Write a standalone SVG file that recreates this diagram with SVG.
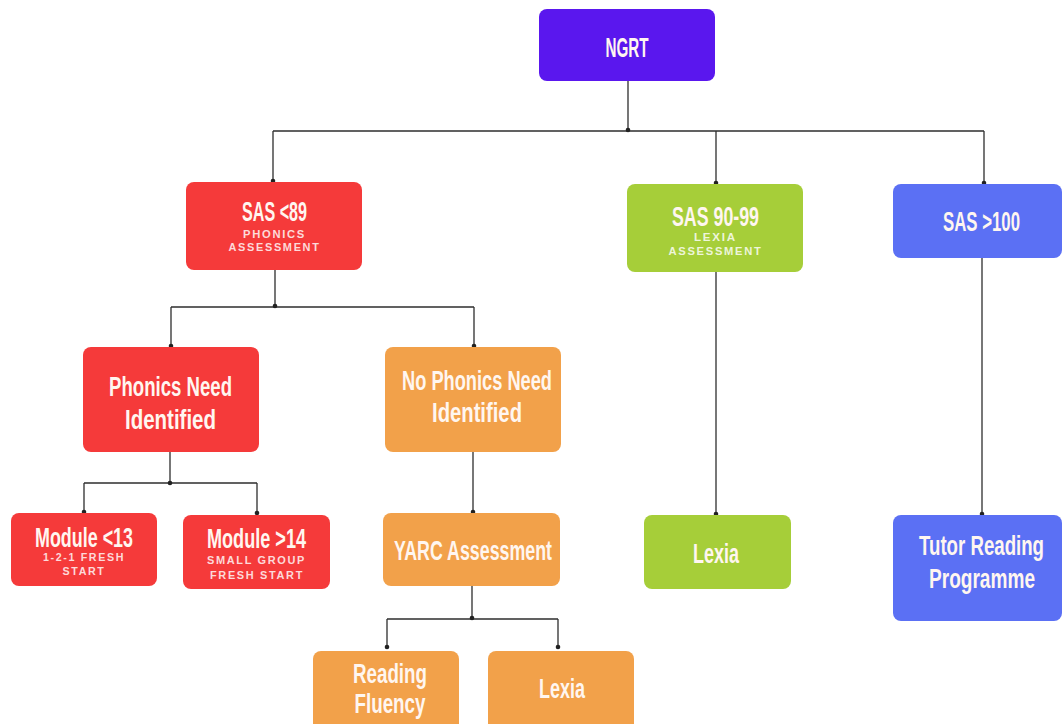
<svg xmlns="http://www.w3.org/2000/svg" width="1062" height="724" viewBox="0 0 1062 724">
<style>
.bg{fill:#ffffff}
.box{stroke:none}
.purple{fill:#5a17ee}
.red{fill:#f53a3a}
.orange{fill:#f2a14a}
.green{fill:#a6ce39}
.blue{fill:#5b70f4}
.t{font-family:"Liberation Sans Narrow","Liberation Sans",Arial,sans-serif;font-weight:bold;font-size:27px;fill:#fff6f0;text-anchor:middle}
.s{font-family:"Liberation Sans","DejaVu Sans",Arial,sans-serif;font-weight:bold;font-size:10px;fill:#ffffff;fill-opacity:0.82;text-anchor:middle;letter-spacing:1.5px}
.ln{stroke:#2e2e2e;stroke-width:1.3;fill:none}
.dot{fill:#222}
</style>
<rect class="bg" x="0" y="0" width="1062" height="724"/>
<g id="connectors">
  <path class="ln" d="M628,81 V131 M273,131 H984 M273,131 V182 M716,131 V184 M984,131 V184"/>
  <path class="ln" d="M275,270 V307 M171,307 H474 M171,307 V347 M474,307 V347"/>
  <path class="ln" d="M170,452 V483 M84,483 H257 M84,483 V513 M257,483 V515"/>
  <path class="ln" d="M473,452 V513"/>
  <path class="ln" d="M472,586 V619 M387,619 H558 M387,619 V649 M558,619 V649"/>
  <path class="ln" d="M716,272 V515"/>
  <path class="ln" d="M982,258 V515"/>
  <circle class="dot" cx="628" cy="130" r="2.3"/>
  <circle class="dot" cx="273" cy="181" r="2.3"/>
  <circle class="dot" cx="716" cy="183" r="2.3"/>
  <circle class="dot" cx="984" cy="183" r="2.3"/>
  <circle class="dot" cx="275" cy="306" r="2.3"/>
  <circle class="dot" cx="171" cy="346" r="2.3"/>
  <circle class="dot" cx="474" cy="346" r="2.3"/>
  <circle class="dot" cx="170" cy="483" r="2.3"/>
  <circle class="dot" cx="84" cy="512" r="2.3"/>
  <circle class="dot" cx="257" cy="513" r="2.3"/>
  <circle class="dot" cx="473" cy="512" r="2.3"/>
  <circle class="dot" cx="472" cy="618" r="2.3"/>
  <circle class="dot" cx="387" cy="647" r="2.3"/>
  <circle class="dot" cx="558" cy="647" r="2.3"/>
  <circle class="dot" cx="716" cy="514" r="2.3"/>
  <circle class="dot" cx="982" cy="514" r="2.3"/>
</g>
<g id="ngrt">
  <rect class="box purple" x="539" y="9" width="176" height="72" rx="8"/>
  <text class="t" x="627" y="57" textLength="43" lengthAdjust="spacingAndGlyphs">NGRT</text>
</g>
<g id="sas89">
  <rect class="box red" x="186" y="182" width="176" height="88" rx="8"/>
  <text class="t" x="274.5" y="221" textLength="65" lengthAdjust="spacingAndGlyphs">SAS &lt;89</text>
  <text class="s" x="274.5" y="238" textLength="63" lengthAdjust="spacingAndGlyphs">PHONICS</text>
  <text class="s" x="274.5" y="251" textLength="92" lengthAdjust="spacingAndGlyphs">ASSESSMENT</text>
</g>
<g id="sas9099">
  <rect class="box green" x="627" y="184" width="176" height="88" rx="8"/>
  <text class="t" x="715.5" y="226" font-size="28" textLength="87" lengthAdjust="spacingAndGlyphs">SAS 90-99</text>
  <text class="s" x="715.5" y="241" textLength="43" lengthAdjust="spacingAndGlyphs">LEXIA</text>
  <text class="s" x="715.5" y="255" textLength="94" lengthAdjust="spacingAndGlyphs">ASSESSMENT</text>
</g>
<g id="sas100">
  <rect class="box blue" x="893" y="184" width="169" height="74" rx="8"/>
  <text class="t" x="981.5" y="231" textLength="77" lengthAdjust="spacingAndGlyphs">SAS &gt;100</text>
</g>
<g id="phonicsneed">
  <rect class="box red" x="83" y="347" width="176" height="105" rx="8"/>
  <text class="t" x="170.5" y="396" textLength="123" lengthAdjust="spacingAndGlyphs">Phonics Need</text>
  <text class="t" x="170.5" y="429" textLength="91" lengthAdjust="spacingAndGlyphs">Identified</text>
</g>
<g id="nophonics">
  <rect class="box orange" x="385" y="347" width="176" height="105" rx="8"/>
  <text class="t" x="477" y="390" textLength="150" lengthAdjust="spacingAndGlyphs">No Phonics Need</text>
  <text class="t" x="477" y="422" textLength="90" lengthAdjust="spacingAndGlyphs">Identified</text>
</g>
<g id="module13">
  <rect class="box red" x="11" y="513" width="146" height="73" rx="8"/>
  <text class="t" x="84" y="547" textLength="98" lengthAdjust="spacingAndGlyphs">Module &lt;13</text>
  <text class="s" x="84" y="561" textLength="82" lengthAdjust="spacingAndGlyphs">1-2-1 FRESH</text>
  <text class="s" x="84" y="575" textLength="43" lengthAdjust="spacingAndGlyphs">START</text>
</g>
<g id="module14">
  <rect class="box red" x="183" y="515" width="147" height="74" rx="8"/>
  <text class="t" x="256.5" y="548" textLength="99" lengthAdjust="spacingAndGlyphs">Module &gt;14</text>
  <text class="s" x="256.5" y="564" textLength="99" lengthAdjust="spacingAndGlyphs">SMALL GROUP</text>
  <text class="s" x="257" y="579" textLength="94" lengthAdjust="spacingAndGlyphs">FRESH START</text>
</g>
<g id="yarc">
  <rect class="box orange" x="383" y="513" width="177" height="73" rx="8"/>
  <text class="t" x="473" y="560" textLength="158" lengthAdjust="spacingAndGlyphs">YARC Assessment</text>
</g>
<g id="readingfluency">
  <rect class="box orange" x="313" y="651" width="146" height="80" rx="8"/>
  <text class="t" x="390" y="683" textLength="74" lengthAdjust="spacingAndGlyphs">Reading</text>
  <text class="t" x="390" y="713" textLength="71" lengthAdjust="spacingAndGlyphs">Fluency</text>
</g>
<g id="lexiaorange">
  <rect class="box orange" x="488" y="651" width="146" height="80" rx="8"/>
  <text class="t" x="562" y="698" textLength="46" lengthAdjust="spacingAndGlyphs">Lexia</text>
</g>
<g id="lexiagreen">
  <rect class="box green" x="644" y="515" width="147" height="74" rx="8"/>
  <text class="t" x="716" y="563" textLength="46" lengthAdjust="spacingAndGlyphs">Lexia</text>
</g>
<g id="tutor">
  <rect class="box blue" x="893" y="515" width="169" height="106" rx="8"/>
  <text class="t" x="981.5" y="555" textLength="125" lengthAdjust="spacingAndGlyphs">Tutor Reading</text>
  <text class="t" x="982" y="588" textLength="106" lengthAdjust="spacingAndGlyphs">Programme</text>
</g>
</svg>
